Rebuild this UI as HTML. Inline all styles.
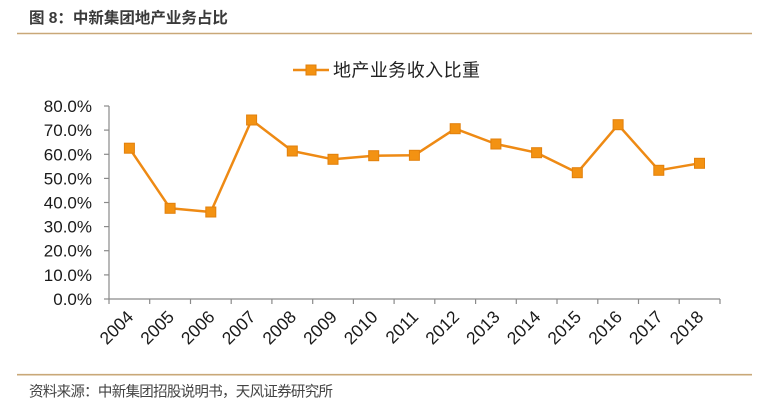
<!DOCTYPE html>
<html>
<head>
<meta charset="utf-8">
<style>
html,body{margin:0;padding:0;background:#fff;}
body{width:760px;height:410px;overflow:hidden;}
svg{display:block;}
</style>
</head>
<body>
<svg width="760" height="410" viewBox="0 0 760 410" xmlns="http://www.w3.org/2000/svg">
  <!-- Title -->
  <text x="29" y="23" font-family="'Liberation Sans','Noto Sans CJK SC',sans-serif" font-size="15.5" font-weight="bold" fill="#3a3a3a">图 8：中新集团地产业务占比</text>
  <line x1="17" y1="33.5" x2="752" y2="33.5" stroke="#C9A878" stroke-width="1.6"/>

  <!-- Legend -->
  <line x1="293" y1="70" x2="329" y2="70" stroke="#EE8A14" stroke-width="2.5"/>
  <rect x="306" y="65" width="10" height="10" fill="#F39212" stroke="#E2800C" stroke-width="1"/>
  <text x="333" y="76.5" font-family="'Liberation Sans','Noto Sans CJK SC',sans-serif" font-size="18" fill="#222" textLength="147" lengthAdjust="spacing">地产业务收入比重</text>

  <!-- Y axis labels -->
  <g font-family="'Liberation Sans',sans-serif" font-size="17" fill="#1a1a1a" text-anchor="end">
    <text x="92" y="112">80.0%</text>
    <text x="92" y="136.1">70.0%</text>
    <text x="92" y="160.3">60.0%</text>
    <text x="92" y="184.4">50.0%</text>
    <text x="92" y="208.5">40.0%</text>
    <text x="92" y="232.6">30.0%</text>
    <text x="92" y="256.7">20.0%</text>
    <text x="92" y="280.9">10.0%</text>
    <text x="92" y="305">0.0%</text>
  </g>

  <!-- Axes -->
  <g stroke="#8a8a8a" stroke-width="1.2" fill="none">
    <line x1="109" y1="106" x2="109" y2="299"/>
    <line x1="104" y1="106" x2="109" y2="106"/>
    <line x1="104" y1="130.1" x2="109" y2="130.1"/>
    <line x1="104" y1="154.3" x2="109" y2="154.3"/>
    <line x1="104" y1="178.4" x2="109" y2="178.4"/>
    <line x1="104" y1="202.5" x2="109" y2="202.5"/>
    <line x1="104" y1="226.6" x2="109" y2="226.6"/>
    <line x1="104" y1="250.7" x2="109" y2="250.7"/>
    <line x1="104" y1="274.9" x2="109" y2="274.9"/>
    <line x1="104" y1="299" x2="109" y2="299"/>
    <line x1="109" y1="299" x2="720" y2="299"/>
    <line x1="109" y1="299" x2="109" y2="304"/>
    <line x1="149.7" y1="299" x2="149.7" y2="304"/>
    <line x1="190.5" y1="299" x2="190.5" y2="304"/>
    <line x1="231.2" y1="299" x2="231.2" y2="304"/>
    <line x1="271.9" y1="299" x2="271.9" y2="304"/>
    <line x1="312.7" y1="299" x2="312.7" y2="304"/>
    <line x1="353.4" y1="299" x2="353.4" y2="304"/>
    <line x1="394.1" y1="299" x2="394.1" y2="304"/>
    <line x1="434.8" y1="299" x2="434.8" y2="304"/>
    <line x1="475.6" y1="299" x2="475.6" y2="304"/>
    <line x1="516.3" y1="299" x2="516.3" y2="304"/>
    <line x1="557" y1="299" x2="557" y2="304"/>
    <line x1="597.8" y1="299" x2="597.8" y2="304"/>
    <line x1="638.5" y1="299" x2="638.5" y2="304"/>
    <line x1="679.2" y1="299" x2="679.2" y2="304"/>
    <line x1="720" y1="299" x2="720" y2="304"/>
  </g>

  <!-- X labels -->
  <g font-family="'Liberation Sans',sans-serif" font-size="17.5" fill="#1a1a1a" text-anchor="end">
    <text transform="translate(134.4,318) rotate(-45)">2004</text>
    <text transform="translate(175.1,318) rotate(-45)">2005</text>
    <text transform="translate(215.8,318) rotate(-45)">2006</text>
    <text transform="translate(256.6,318) rotate(-45)">2007</text>
    <text transform="translate(297.3,318) rotate(-45)">2008</text>
    <text transform="translate(338,318) rotate(-45)">2009</text>
    <text transform="translate(378.7,318) rotate(-45)">2010</text>
    <text transform="translate(419.4,318) rotate(-45)">2011</text>
    <text transform="translate(460.2,318) rotate(-45)">2012</text>
    <text transform="translate(500.9,318) rotate(-45)">2013</text>
    <text transform="translate(541.6,318) rotate(-45)">2014</text>
    <text transform="translate(582.3,318) rotate(-45)">2015</text>
    <text transform="translate(623.1,318) rotate(-45)">2016</text>
    <text transform="translate(663.8,318) rotate(-45)">2017</text>
    <text transform="translate(704.5,318) rotate(-45)">2018</text>
  </g>

  <!-- Series -->
  <polyline fill="none" stroke="#EE8A14" stroke-width="2.5" stroke-linejoin="round"
    points="129.4,148.2 170.1,208.3 210.8,212 251.6,120 292.3,151 333,159.3 373.7,155.7 414.4,155.3 455.2,128.7 495.9,144 536.6,152.7 577.3,172.7 618.1,124.7 658.8,170.3 699.5,163.3"/>
  <g fill="#F39212" stroke="#E2800C" stroke-width="1">
    <rect x="124.4" y="143.2" width="10" height="10"/>
    <rect x="165.1" y="203.3" width="10" height="10"/>
    <rect x="205.8" y="207" width="10" height="10"/>
    <rect x="246.6" y="115" width="10" height="10"/>
    <rect x="287.3" y="146" width="10" height="10"/>
    <rect x="328" y="154.3" width="10" height="10"/>
    <rect x="368.7" y="150.7" width="10" height="10"/>
    <rect x="409.4" y="150.3" width="10" height="10"/>
    <rect x="450.2" y="123.7" width="10" height="10"/>
    <rect x="490.9" y="139" width="10" height="10"/>
    <rect x="531.6" y="147.7" width="10" height="10"/>
    <rect x="572.3" y="167.7" width="10" height="10"/>
    <rect x="613.1" y="119.7" width="10" height="10"/>
    <rect x="653.8" y="165.3" width="10" height="10"/>
    <rect x="694.5" y="158.3" width="10" height="10"/>
  </g>

  <!-- Footer -->
  <line x1="17" y1="374.7" x2="752" y2="374.7" stroke="#C9A878" stroke-width="1.6"/>
  <text x="29" y="396.5" font-family="'Liberation Sans','Noto Sans CJK SC',sans-serif" font-size="14.5" fill="#444" textLength="304" lengthAdjust="spacing">资料来源：中新集团招股说明书，天风证券研究所</text>
</svg>
</body>
</html>
